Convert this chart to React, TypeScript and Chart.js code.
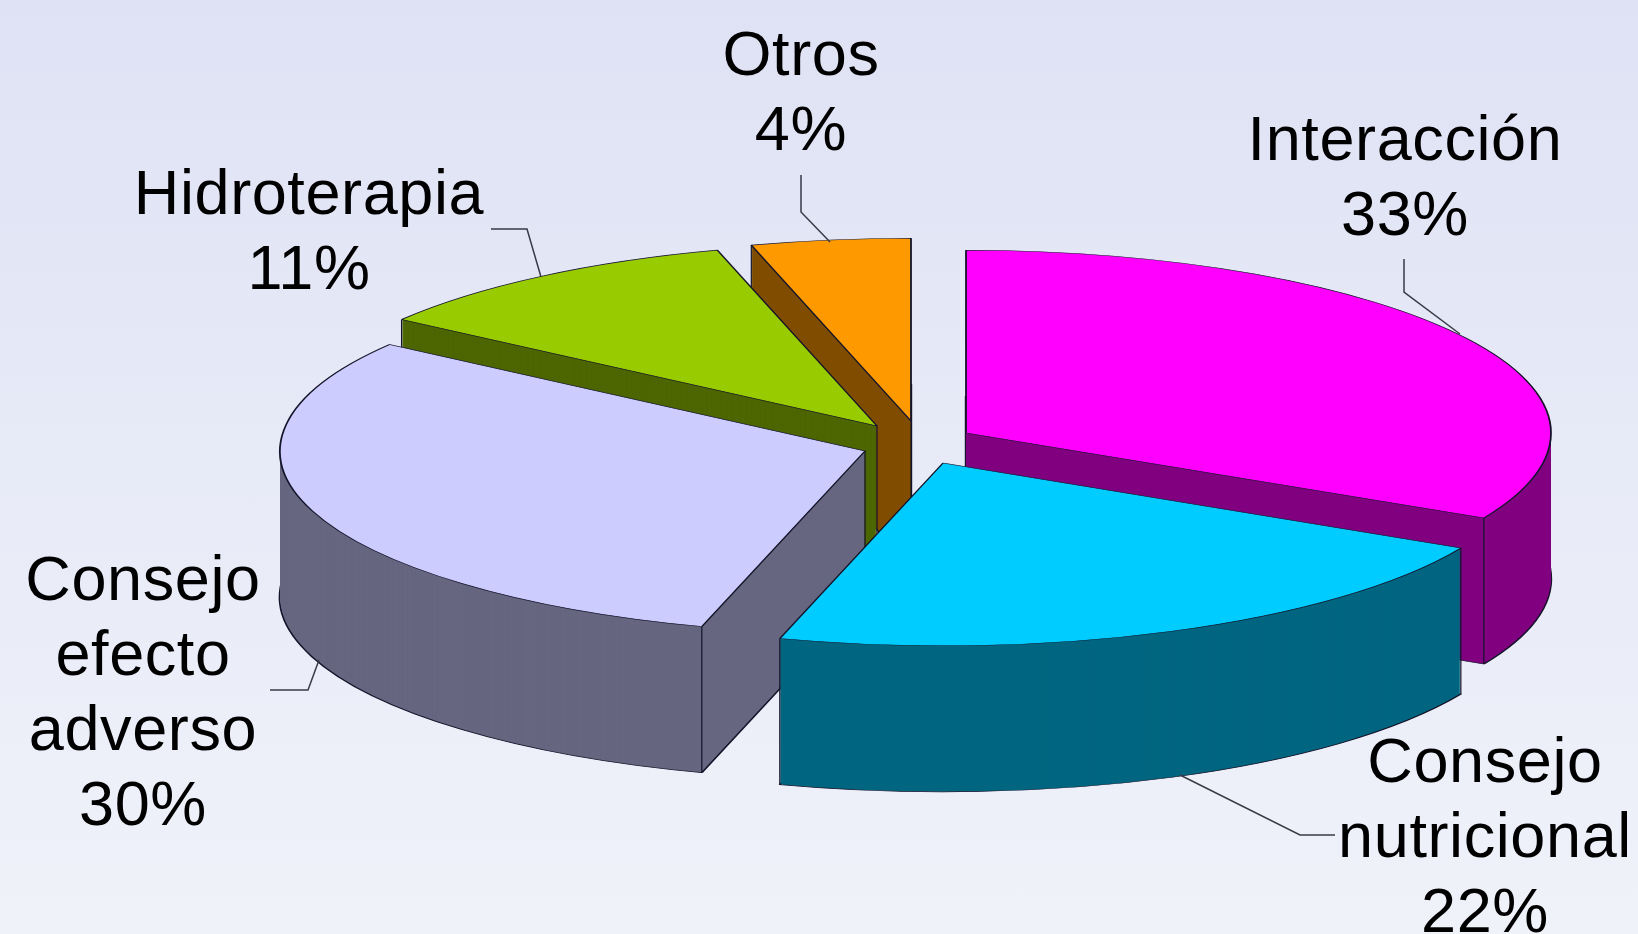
import React, { useEffect, useRef } from "react";
import { Chart, registerables } from "chart.js";

Chart.register(...registerables);

// ---- data ----
const categories = ["Interacción", "Consejo nutricional", "Consejo efecto adverso", "Hidroterapia", "Otros"];
// slice sizes; the printed labels are these rounded
const shares = [32.7, 21.8, 30.4, 10.7, 4.4];
const topColors = ["#FF00FF", "#00CCFF", "#CCCCFF", "#99CC00", "#FF9900"];
const sideColors = ["#800080", "#006680", "#666680", "#4D6600", "#804D00"];

// ---- layout (not data) ----
const W = 1638;
const H = 934;
const RADIUS = 585;
const SQUASH = 0.3125;
const DEPTH = 146;
const paintOrder = [4, 3, 0, 2, 1];
const sliceApex = [
  [966, 433],
  [943, 463],
  [865, 451],
  [877, 426],
  [911, 421],
];
// which vertical wall corners can be seen on each slice
const showStartCorner = [false, true, true, true, true];
const showEndCorner = [true, true, false, false, false];
const showApexCorner = [false, false, true, true, true];
const labelLines = [["Interacción"], ["Consejo", "nutricional"], ["Consejo", "efecto", "adverso"], ["Hidroterapia"], ["Otros"]];
const labelCentre = [1405, 1485, 143, 309, 801];
const labelFirstBaseline = [160, 782, 600, 214, 75];
const LINE_GAP = 75;
const leaders = [
  [[1404, 259], [1404, 292], [1460, 334]],
  [[1180, 775], [1300, 835], [1335, 835]],
  [[270, 690], [308, 690], [319, 660]],
  [[491, 229], [527, 229], [541, 277]],
  [[801, 175], [801, 212], [830, 242]],
];
const EDGE = "#14142a";

const pie3d = {
  id: "pie3d",
  beforeDatasetsDraw(chart: any) {
    const ctx = chart.ctx;
    const arcs = chart.getDatasetMeta(0).data;
    for (const i of paintOrder) {
      const arc = arcs[i];
      const base = arc.options;
      const [ax, ay] = sliceApex[i];
      const place = (dy: number) => {
        ctx.translate(ax, ay + dy);
        ctx.scale(1, SQUASH);
        ctx.translate(-arc.x, -arc.y);
      };
      // bottom face first: the walls above it leave only its outer edge showing
      arc.options = { ...base, backgroundColor: sideColors[i], borderWidth: 2.4, borderColor: EDGE };
      ctx.save();
      place(DEPTH);
      arc.draw(ctx);
      ctx.restore();
      // side walls: the slice repeated downwards in its dark colour
      arc.options = { ...base, backgroundColor: sideColors[i], borderWidth: 0 };
      for (let d = DEPTH - 1; d > 0; d--) {
        ctx.save();
        place(d);
        arc.draw(ctx);
        ctx.restore();
      }
      // visible vertical corners
      ctx.save();
      ctx.strokeStyle = EDGE;
      ctx.lineWidth = 1.2;
      ctx.beginPath();
      const corner = (a: number) => {
        const x = ax + RADIUS * Math.cos(a);
        const y = ay + RADIUS * SQUASH * Math.sin(a);
        ctx.moveTo(x, y);
        ctx.lineTo(x, y + DEPTH);
      };
      if (showStartCorner[i]) corner(arc.startAngle);
      if (showEndCorner[i]) corner(arc.endAngle);
      if (showApexCorner[i]) {
        ctx.moveTo(ax, ay);
        ctx.lineTo(ax, ay + DEPTH);
      }
      ctx.stroke();
      ctx.restore();
      // top face
      arc.options = { ...base, backgroundColor: topColors[i], borderWidth: 1.8, borderColor: EDGE };
      ctx.save();
      place(0);
      arc.draw(ctx);
      ctx.restore();
      arc.options = base;
    }
    return false;
  },
  afterDraw(chart: any) {
    const ctx = chart.ctx;
    ctx.save();
    ctx.strokeStyle = "#3a3a48";
    ctx.lineWidth = 1.5;
    for (const path of leaders) {
      ctx.beginPath();
      path.forEach(([x, y], k) => (k ? ctx.lineTo(x, y) : ctx.moveTo(x, y)));
      ctx.stroke();
    }
    ctx.fillStyle = "#000";
    ctx.font = '63px "Liberation Sans", Arial, sans-serif';
    ctx.letterSpacing = "0.6px";
    ctx.textAlign = "center";
    ctx.textBaseline = "alphabetic";
    categories.forEach((_, i) => {
      const lines = [...labelLines[i], `${Math.round(shares[i])}%`];
      lines.forEach((t, k) => ctx.fillText(t, labelCentre[i], labelFirstBaseline[i] + k * LINE_GAP));
    });
    ctx.restore();
  },
};

export default function App() {
  const ref = useRef<HTMLCanvasElement>(null);
  useEffect(() => {
    document.body.style.margin = "0";
    const chart = new Chart(ref.current!, {
      type: "pie",
      data: {
        labels: categories,
        datasets: [{ data: shares, backgroundColor: topColors, borderColor: EDGE, borderWidth: 1.8, clip: false } as any],
      },
      options: {
        animation: false,
        responsive: false,
        radius: RADIUS,
        events: [],
        plugins: { legend: { display: false }, tooltip: { enabled: false } },
      } as any,
      plugins: [pie3d],
    });
    return () => chart.destroy();
  }, []);
  return (
    <div style={{ width: W, height: H, overflow: "hidden", background: "linear-gradient(180deg,#DFE2F4 0%,#F0F2FA 100%)" }}>
      <canvas ref={ref} width={W} height={H} style={{ display: "block" }} />
    </div>
  );
}
